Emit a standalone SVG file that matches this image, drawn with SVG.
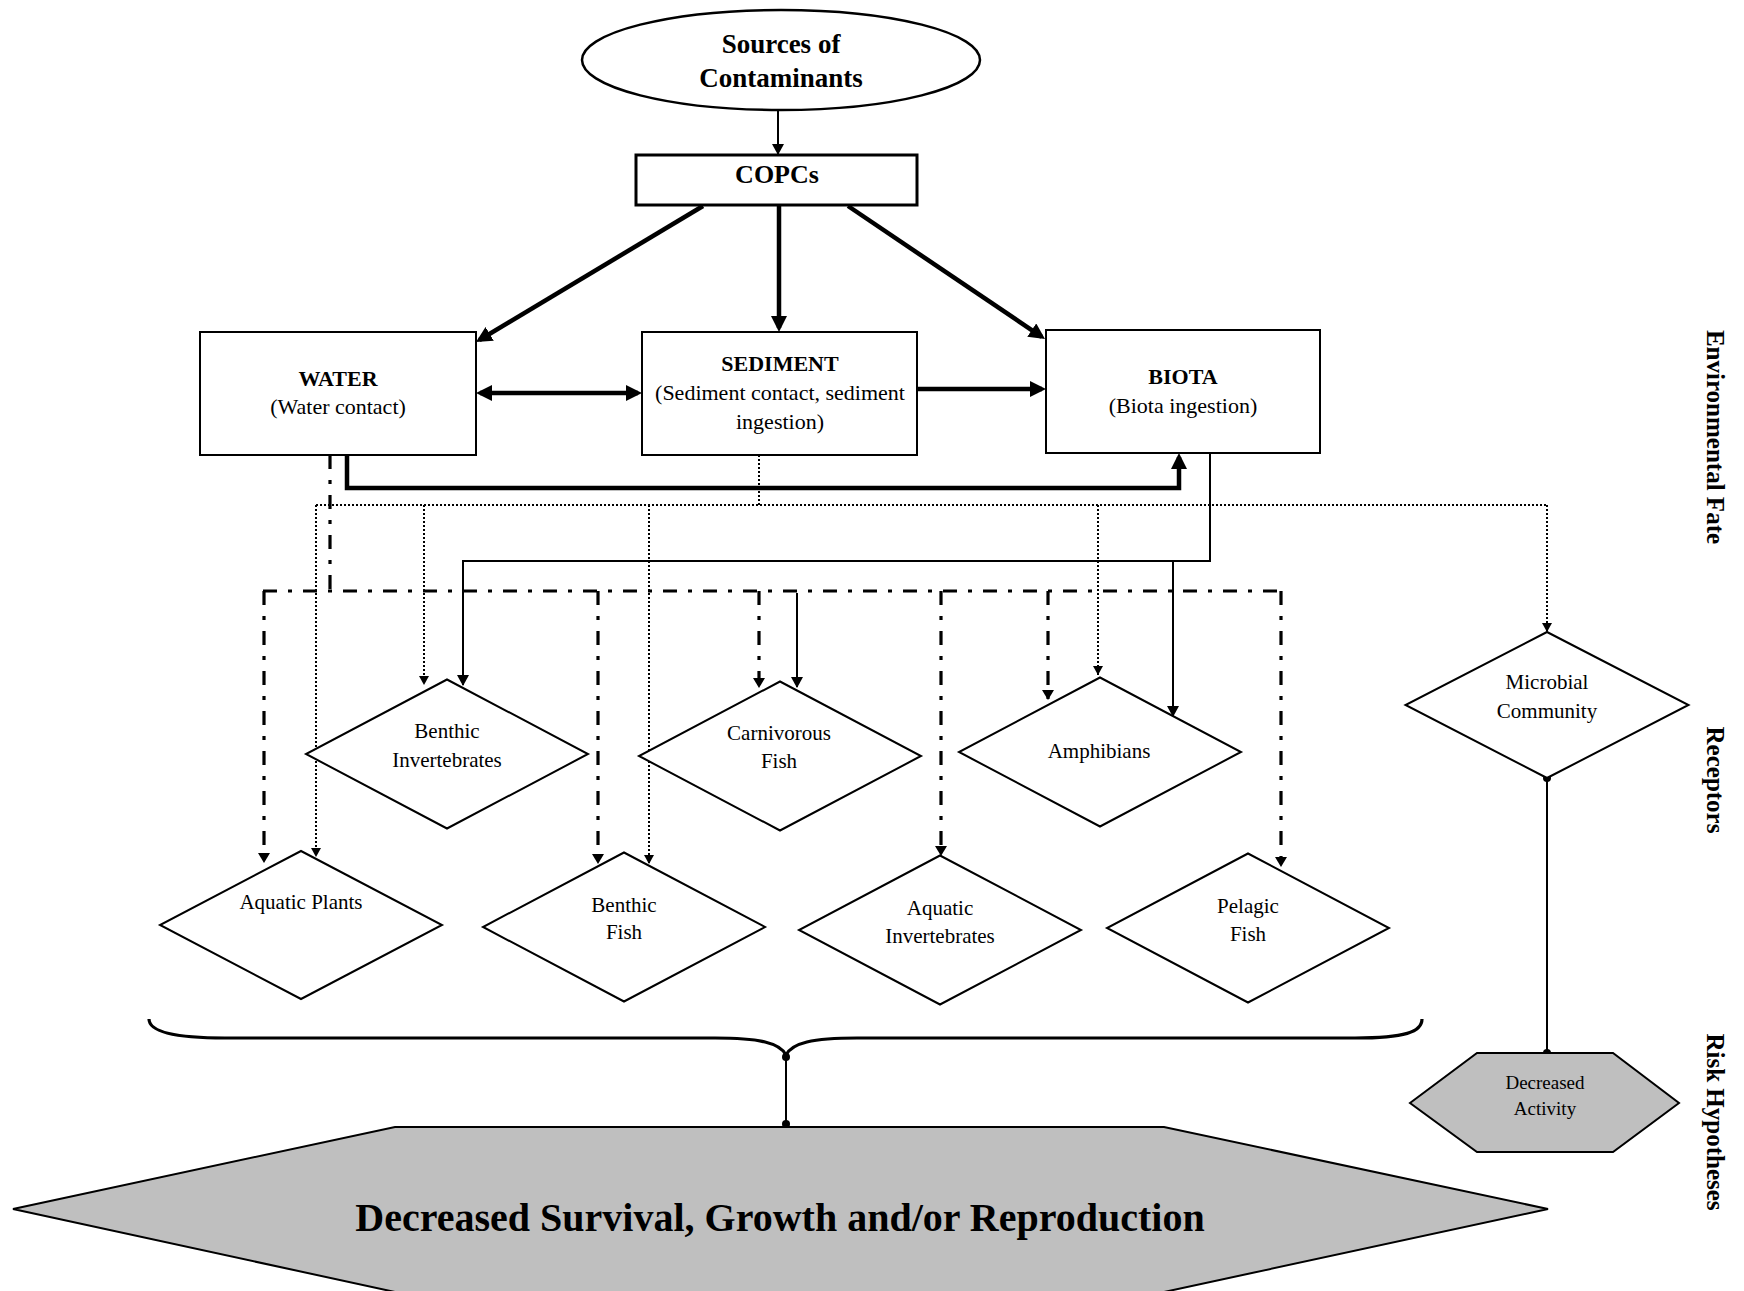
<svg xmlns="http://www.w3.org/2000/svg" width="1744" height="1291" viewBox="0 0 1744 1291">
<style>
  .box{fill:#fff;stroke:#000;stroke-width:2}
  .dia{fill:#fff;stroke:#000;stroke-width:2}
  .hyp{fill:#bfbfbf;stroke:#000;stroke-width:2}
  text{font-family:"Liberation Serif","Times New Roman",serif;fill:#000}
  .t{font-size:22px;text-anchor:middle}
  .tb{font-size:22px;font-weight:bold;text-anchor:middle}
  .d{font-size:21px;text-anchor:middle}
  .side{font-size:25px;font-weight:bold;text-anchor:middle}
  .thick{fill:none;stroke:#000;stroke-width:4.5}
  .thin{fill:none;stroke:#000;stroke-width:2}
  .dd{fill:none;stroke:#000;stroke-width:3.2;stroke-dasharray:14 11 4 11}
  .dot{fill:none;stroke:#000;stroke-width:2;stroke-dasharray:2 2}
</style>
<defs>
  <marker id="aT" markerUnits="userSpaceOnUse" markerWidth="16" markerHeight="16" viewBox="0 0 16 16" refX="12" refY="8" orient="auto-start-reverse"><path d="M0,0 L16,8 L0,16 z"/></marker>
  <marker id="aS" markerUnits="userSpaceOnUse" markerWidth="12" markerHeight="12" viewBox="0 0 12 12" refX="10" refY="6" orient="auto"><path d="M0,0 L11,6 L0,12 z"/></marker>
  <marker id="aD" markerUnits="userSpaceOnUse" markerWidth="12" markerHeight="12" viewBox="0 0 12 12" refX="9" refY="6" orient="auto"><path d="M0,0 L10,6 L0,12 z"/></marker>
  <marker id="aP" markerUnits="userSpaceOnUse" markerWidth="10" markerHeight="10" viewBox="0 0 10 10" refX="9" refY="5" orient="auto"><path d="M0,0 L9,5 L0,10 z"/></marker>
  <marker id="dotm" markerUnits="userSpaceOnUse" markerWidth="10" markerHeight="10" viewBox="0 0 10 10" refX="5" refY="5"><circle cx="5" cy="5" r="4"/></marker>
</defs>

<g id="connectors">
  <path class="thin" d="M778,110 V154" marker-end="url(#aS)"/>
  <path class="thick" d="M703,206 L479.4,340" marker-end="url(#aT)"/>
  <path class="thick" d="M779,206 V328" marker-end="url(#aT)"/>
  <path class="thick" d="M848,206 L1041.7,336.8" marker-end="url(#aT)"/>
  <path class="thick" d="M480,393 H638" marker-start="url(#aT)" marker-end="url(#aT)"/>
  <path class="thick" d="M917,389 H1042" marker-end="url(#aT)"/>
  <path class="thick" d="M347,455 V488 H1179 V457" marker-end="url(#aT)"/>

  <path class="dd" d="M330,455 V591"/>
  <path class="dd" d="M263,591 H1281"/>
  <path class="dd" d="M264,591 V862" marker-end="url(#aD)"/>
  <path class="dd" d="M598,591 V863" marker-end="url(#aD)"/>
  <path class="dd" d="M759,591 V687" marker-end="url(#aD)"/>
  <path class="dd" d="M941,591 V855" marker-end="url(#aD)"/>
  <path class="dd" d="M1048,591 V699" marker-end="url(#aD)"/>
  <path class="dd" d="M1281,591 V866" marker-end="url(#aD)"/>

  <path class="dot" d="M759,455 V505"/>
  <path class="dot" d="M316,505 H1547"/>
  <path class="dot" d="M316,505 V857" marker-end="url(#aP)"/>
  <path class="dot" d="M424,505 V685" marker-end="url(#aP)"/>
  <path class="dot" d="M649,505 V864" marker-end="url(#aP)"/>
  <path class="dot" d="M1098,505 V675" marker-end="url(#aP)"/>
  <path class="dot" d="M1547,505 V632" marker-end="url(#aP)"/>

  <path class="thin" d="M1210,453 V561 H463 V685" marker-end="url(#aS)"/>
  <path class="thin" d="M1173,561 V716" marker-end="url(#aS)"/>
  <path class="thin" d="M797,593 V687" marker-end="url(#aS)"/>

  <path class="thin" d="M1547,778 V1053" marker-start="url(#dotm)" marker-end="url(#dotm)"/>
  <path fill="none" stroke="#000" stroke-width="3.2" d="M149,1019 C149,1032 175,1038 225,1038 H715 C760,1038 780,1043 786,1055 C792,1043 812,1038 857,1038 H1355 C1405,1038 1422,1032 1422,1019"/>
  <path class="thin" d="M786,1057 V1124" marker-start="url(#dotm)" marker-end="url(#dotm)"/>
</g>

<g id="sources">
  <ellipse cx="781" cy="60" rx="199" ry="50" fill="#fff" stroke="#000" stroke-width="2.5"/>
  <text x="781" y="53" style="font-size:27px;font-weight:bold;text-anchor:middle">Sources of</text>
  <text x="781" y="87" style="font-size:27px;font-weight:bold;text-anchor:middle">Contaminants</text>
</g>
<g id="copcs">
  <rect x="636" y="155" width="281" height="50" fill="#fff" stroke="#000" stroke-width="3"/>
  <text x="777" y="183" style="font-size:26px;font-weight:bold;text-anchor:middle">COPCs</text>
</g>
<g id="water">
  <rect class="box" x="200" y="332" width="276" height="123"/>
  <text class="tb" x="338" y="386">WATER</text>
  <text class="t" x="338" y="414">(Water contact)</text>
</g>
<g id="sediment">
  <rect class="box" x="642" y="332" width="275" height="123"/>
  <text class="tb" x="780" y="371">SEDIMENT</text>
  <text class="t" x="780" y="400">(Sediment contact, sediment</text>
  <text class="t" x="780" y="429">ingestion)</text>
</g>
<g id="biota">
  <rect class="box" x="1046" y="330" width="274" height="123"/>
  <text class="tb" x="1183" y="384">BIOTA</text>
  <text class="t" x="1183" y="413">(Biota ingestion)</text>
</g>

<g id="benthic-invertebrates">
  <polygon class="dia" points="447,679.5 588,754 447,828.5 306,754"/>
  <text class="d" x="447" y="738">Benthic</text>
  <text class="d" x="447" y="767">Invertebrates</text>
</g>
<g id="carnivorous-fish">
  <polygon class="dia" points="780,681.5 921,756 780,830.5 639,756"/>
  <text class="d" x="779" y="740">Carnivorous</text>
  <text class="d" x="779" y="768">Fish</text>
</g>
<g id="amphibians">
  <polygon class="dia" points="1100,677.5 1241,752 1100,826.5 959,752"/>
  <text class="d" x="1099" y="758">Amphibians</text>
</g>
<g id="microbial-community">
  <polygon class="dia" points="1547,632 1688.5,705 1547,778 1405.5,705"/>
  <text class="d" x="1547" y="689">Microbial</text>
  <text class="d" x="1547" y="718">Community</text>
</g>
<g id="aquatic-plants">
  <polygon class="dia" points="301,851 442,925 301,999 160,925"/>
  <text class="d" x="301" y="909">Aquatic Plants</text>
</g>
<g id="benthic-fish">
  <polygon class="dia" points="624,852.5 765,927 624,1001.5 483,927"/>
  <text class="d" x="624" y="912">Benthic</text>
  <text class="d" x="624" y="939">Fish</text>
</g>
<g id="aquatic-invertebrates">
  <polygon class="dia" points="940,855.5 1081,930 940,1004.5 799,930"/>
  <text class="d" x="940" y="915">Aquatic</text>
  <text class="d" x="940" y="943">Invertebrates</text>
</g>
<g id="pelagic-fish">
  <polygon class="dia" points="1248,853.5 1389,928 1248,1002.5 1107,928"/>
  <text class="d" x="1248" y="913">Pelagic</text>
  <text class="d" x="1248" y="941">Fish</text>
</g>

<g id="decreased-activity">
  <polygon class="hyp" points="1410,1103 1477,1053 1613,1053 1679,1103 1613,1152 1477,1152"/>
  <text x="1545" y="1089" style="font-size:19px;text-anchor:middle">Decreased</text>
  <text x="1545" y="1115" style="font-size:19px;text-anchor:middle">Activity</text>
</g>
<g id="decreased-survival">
  <polygon class="hyp" points="13,1209 395,1127 1164,1127 1548,1209 1164,1292 395,1292"/>
  <text x="780" y="1231" style="font-size:40px;font-weight:bold;text-anchor:middle">Decreased Survival, Growth and/or Reproduction</text>
</g>

<g id="side-labels">
  <text class="side" transform="translate(1707,437) rotate(90)">Environmental Fate</text>
  <text class="side" transform="translate(1707,780) rotate(90)">Receptors</text>
  <text class="side" transform="translate(1707,1122) rotate(90)">Risk Hypotheses</text>
</g>
</svg>
